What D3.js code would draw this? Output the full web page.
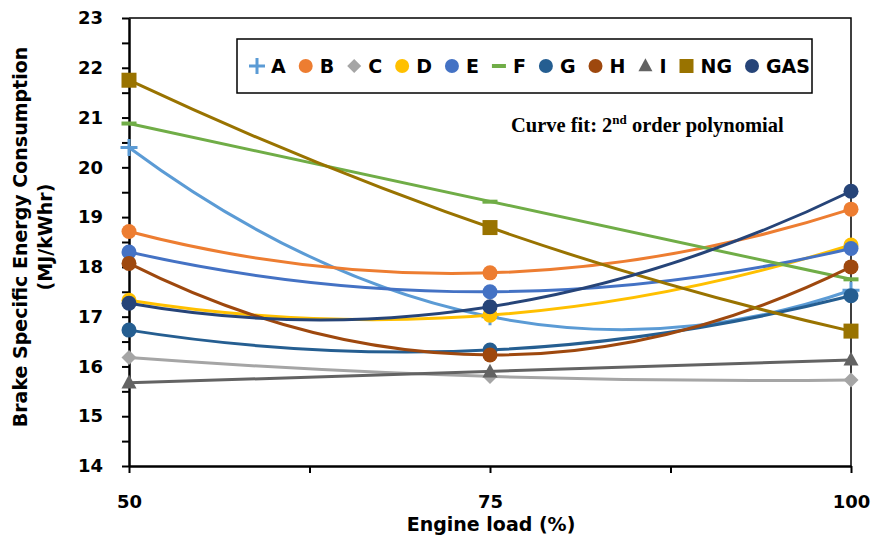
<!DOCTYPE html>
<html>
<script src="https://d3js.org/d3.v7.min.js"></script>
<style>
    body { margin: 0; background: #fff; }
    text { font-family: "DejaVu Sans", sans-serif; font-weight: bold; fill: #000; }
    .axis .domain { stroke: #000; stroke-width: 2.5px; }
    .axis .tick line { stroke: #000; stroke-width: 2px; }
    .axis .tick text { font-size: 18px; font-family: "DejaVu Sans", sans-serif; font-weight: bold; }
</style>
<body>
<script>
    const width = 875,
        height = 546;

    // engine load (%)
    const loads = [50, 75, 100];
    const xTickLabels = [50, 75, 100];
    const xTicks = [50, 62.5, 75, 87.5, 100];
    const yTickLabels = [14, 15, 16, 17, 18, 19, 20, 21, 22, 23];

    const names = ["A", "B", "C", "D", "E", "F", "G", "H", "I", "NG", "GAS"];
    const colors = ["#5B9BD5", "#ED7D31", "#A5A5A5", "#FFC000", "#4472C4", "#70AD47",
        "#255E91", "#9E480E", "#636363", "#997300", "#264478"];
    const shapes = ["plus", "circle", "diamond", "circle", "circle", "dash",
        "circle", "circle", "triangle", "square", "circle"];

    // brake specific energy consumption (MJ/kWhr) at 50, 75, 100 %
    const A = [20.40, 17.00, 17.53];
    const B = [18.71, 17.88, 19.16];
    const C = [16.18, 15.80, 15.73];
    const D = [17.33, 17.03, 18.44];
    const E = [18.30, 17.50, 18.37];
    const F = [20.88, 19.31, 17.75];
    const G = [16.73, 16.33, 17.42];
    const H = [18.07, 16.23, 18.00];
    const I = [15.67, 15.89, 16.13];
    const NG = [21.75, 18.79, 16.71];
    const GAS = [17.27, 17.20, 19.52];
    const values = [A, B, C, D, E, F, G, H, I, NG, GAS];

    const series = names.map((n, i) => ({ name: n, color: colors[i], shape: shapes[i], v: values[i] }));

    const svg = d3.select("body").append("svg").attr("width", width).attr("height", height);

    const x = d3.scaleLinear().domain([50, 100]).range([129, 851]);
    const y = d3.scaleLinear().domain([14, 23]).range([466, 18]);

    // frame (top and right)
    svg.append("path")
        .attr("d", `M${x(50)},${y(23)}H${x(100)}V${y(14)}`)
        .attr("fill", "none").attr("stroke", "#000").attr("stroke-width", 1.5);

    svg.append("g").attr("class", "axis")
        .attr("transform", `translate(${x(50)},0)`)
        .call(d3.axisLeft(y).tickValues(d3.range(14, 23.01, 0.5)).tickSize(7).tickSizeOuter(0).tickPadding(19)
            .tickFormat(d => yTickLabels.includes(d) ? d : ""));

    svg.append("g").attr("class", "axis")
        .attr("transform", `translate(0,${y(14)})`)
        .call(d3.axisBottom(x).tickValues(xTicks).tickSize(7).tickSizeOuter(0).tickPadding(22)
            .tickFormat(d => xTickLabels.includes(d) ? d : ""));

    function marker(g, shape, color, s) {
        if (shape === "circle") g.append("circle").attr("r", s).attr("fill", color);
        else if (shape === "square") g.append("rect").attr("x", -s).attr("y", -s).attr("width", 2 * s).attr("height", 2 * s).attr("fill", color);
        else if (shape === "diamond") g.append("path").attr("d", `M0,${-s}L${s},0L0,${s}L${-s},0Z`).attr("fill", color);
        else if (shape === "triangle") g.append("path").attr("d", `M0,${-s * 1.1}L${s},${s * 0.75}L${-s},${s * 0.75}Z`).attr("fill", color);
        else if (shape === "dash") g.append("rect").attr("x", -s).attr("y", -2).attr("width", 2 * s).attr("height", 4).attr("fill", color);
        else if (shape === "plus") g.append("path").attr("d", `M${-s - 1},0H${s + 1}M0,${-s - 1}V${s + 1}`).attr("stroke", color).attr("stroke-width", 3);
    }

    // second order polynomial through the three points, as a quadratic bezier
    function curve(v) {
        const p = d3.path();
        const y0 = y(v[0]), y1 = y(v[1]), y2 = y(v[2]);
        p.moveTo(x(loads[0]), y0);
        p.quadraticCurveTo(x(loads[1]), 2 * y1 - (y0 + y2) / 2, x(loads[2]), y2);
        return p.toString();
    }

    series.forEach(s => {
        const g = svg.append("g");
        g.append("path").attr("d", curve(s.v)).attr("fill", "none")
            .attr("stroke", s.color).attr("stroke-width", 3);
        s.v.forEach((d, j) => {
            marker(g.append("g").attr("transform", `translate(${x(loads[j])},${y(d)})`), s.shape, s.color, 7.5);
        });
    });

    // legend
    const legend = svg.append("g");
    legend.append("rect").attr("x", 237).attr("y", 39).attr("width", 575).attr("height", 54)
        .attr("fill", "#fff").attr("stroke", "#000").attr("stroke-width", 1.5);
    let cx = 249;
    series.forEach(s => {
        marker(legend.append("g").attr("transform", `translate(${cx + 8},66)`), s.shape, s.color, 7);
        const t = legend.append("text").attr("x", cx + 22).attr("y", 73)
            .attr("font-size", 19).text(s.name);
        cx += 22 + t.node().getComputedTextLength() + 12;
    });

    const note = svg.append("text").attr("x", 511).attr("y", 132)
        .style("font-family", "'Liberation Serif', serif").attr("font-size", 20.5);
    note.append("tspan").text("Curve fit: 2");
    note.append("tspan").attr("font-size", 13).attr("dy", -8).text("nd");
    note.append("tspan").attr("dy", 8).text(" order polynomial");

    svg.append("text").attr("x", 491).attr("y", 531).attr("text-anchor", "middle")
        .attr("font-size", 19).text("Engine load (%)");

    const yt = svg.append("text").attr("transform", "translate(27,237) rotate(-90)")
        .attr("text-anchor", "middle").attr("font-size", 19);
    yt.append("tspan").attr("x", 0).attr("y", 0).text("Brake Specific Energy Consumption");
    yt.append("tspan").attr("x", 0).attr("y", 25).text("(MJ/kWhr)");
</script>
</body>
</html>
